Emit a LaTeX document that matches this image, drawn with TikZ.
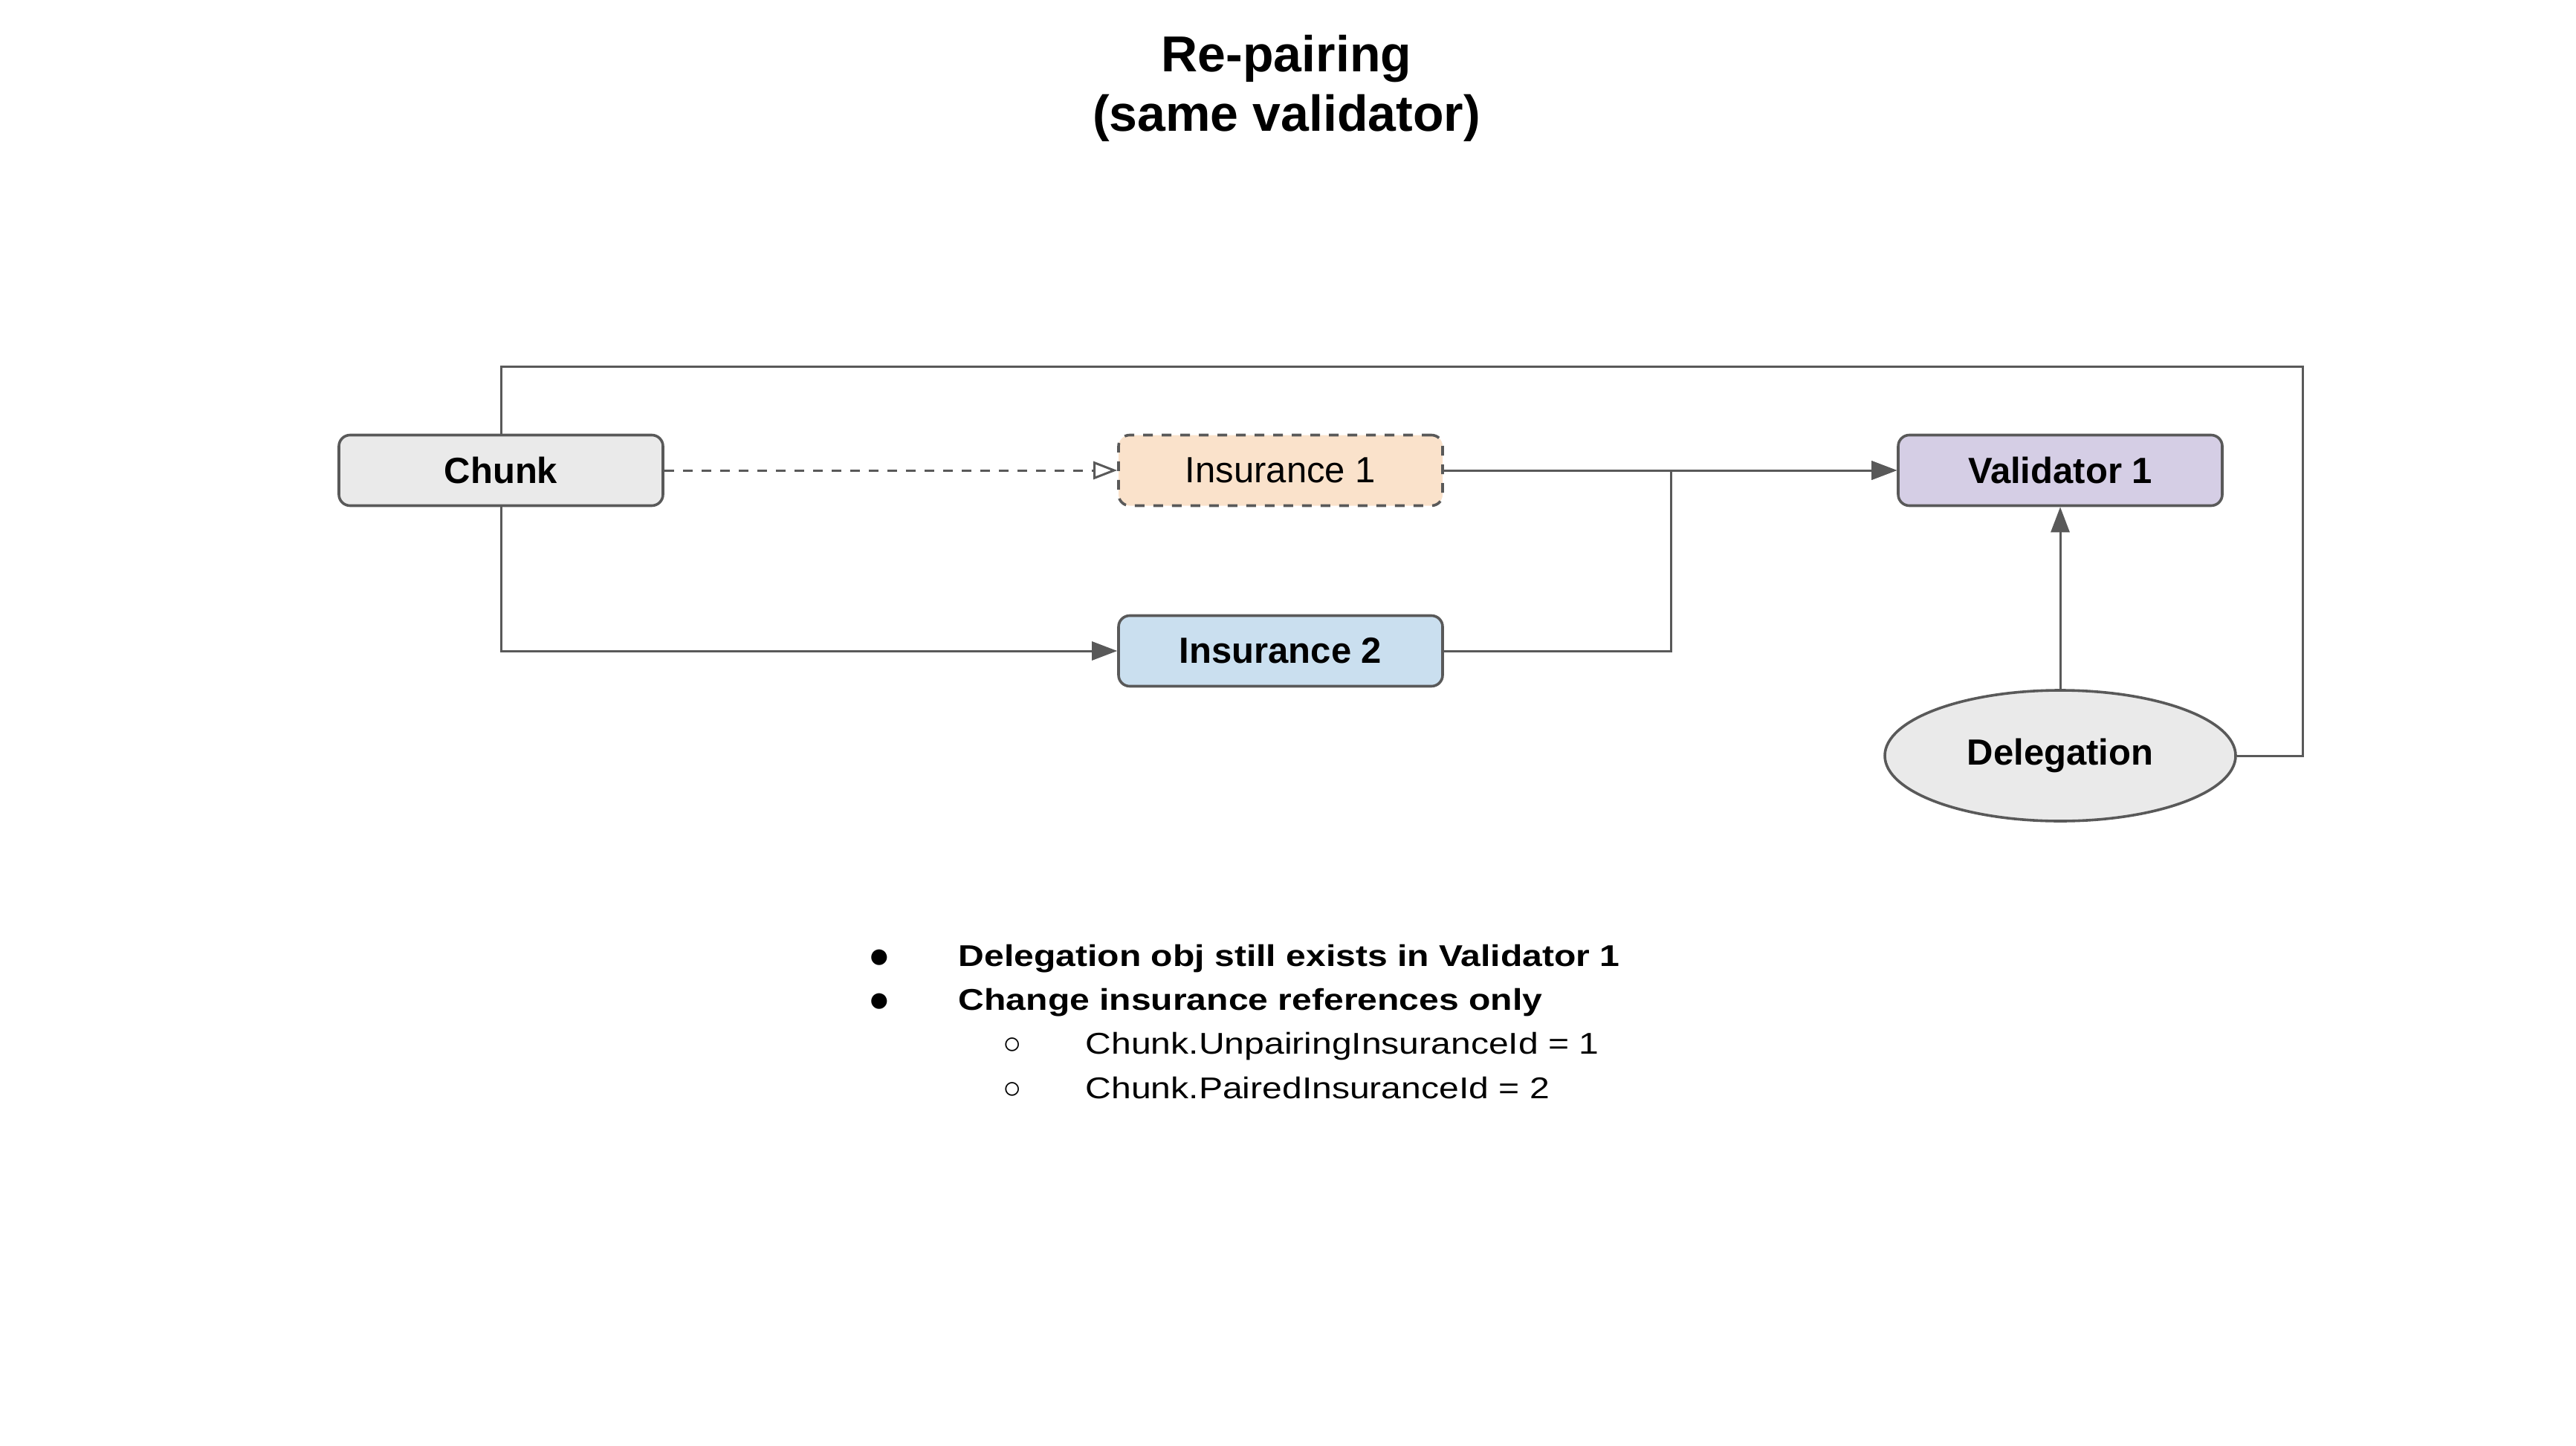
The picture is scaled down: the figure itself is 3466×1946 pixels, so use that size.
\documentclass[tikz,border=0pt]{standalone}
\usepackage{fontspec}
\setmainfont{Liberation Sans}
\newfontfamily\notefont[FakeStretch=1.19]{Liberation Sans}
\usetikzlibrary{arrows.meta,shapes.geometric}
\definecolor{linegray}{HTML}{595959}
\definecolor{chunkfill}{HTML}{EAEAEA}
\definecolor{insonefill}{HTML}{FAE2CB}
\definecolor{instwofill}{HTML}{CADFEF}
\definecolor{valfill}{HTML}{D5CEE5}
\begin{document}
\begin{tikzpicture}[x=0.25pt,y=-0.25pt,
  boxnode/.style={draw=linegray, line width=0.9pt, rounded corners=3.75pt,
    minimum width=109pt, minimum height=23.75pt, inner sep=0pt,
    font=\fontsize{12.25}{14}\selectfont\bfseries},
  ellnode/.style={ellipse, draw=linegray, line width=0.9pt, fill=chunkfill,
    minimum width=118pt, minimum height=44pt, inner sep=0pt,
    font=\fontsize{12.25}{14}\selectfont\bfseries},
  conn/.style={draw=linegray, line width=0.75pt},
  arr/.style={-{Triangle[length=8.5pt,width=6.25pt]}},
  openarr/.style={-{Triangle[open,length=8pt,width=6pt]}},
  dashline/.style={dash pattern=on 3.25pt off 3pt},
  titletext/.style={anchor=base, inner sep=0pt, font=\fontsize{17}{20}\selectfont\bfseries},
  bultext/.style={anchor=base west, inner sep=0pt, font=\notefont\fontsize{10.1}{12}\selectfont},
  bulmark/.style={anchor=base, inner sep=0pt, font=\fontsize{12.25}{14}\selectfont},
  subbulmark/.style={anchor=base, inner sep=0pt, font=\fontsize{10.5}{12}\selectfont}
]
\useasboundingbox (0,0) rectangle (3466,1946);

% title
\node[titletext] (t1) at (1731,97) {Re-pairing};
\node[titletext] (t2) at (1731,177) {(same validator)};

% nodes
\node[boxnode, fill=chunkfill] (chunk) at (674,633) {Chunk};
\node[boxnode, fill=insonefill, dashline, font=\fontsize{12.25}{14}\selectfont] (ins1) at (1723,633) {Insurance 1};
\node[boxnode, fill=instwofill] (ins2) at (1723,876) {Insurance 2};
\node[boxnode, fill=valfill] (val) at (2772,633) {Validator 1};
\node[ellnode] (deleg) at (2772,1017) {Delegation};

% connectors
\coordinate (join) at (2248,633);
\coordinate (topright) at (3098,494);
\draw[conn, dashline, openarr] (chunk.east) -- (ins1.west);
\draw[conn, arr] (ins1.east) -- (val.west);
\draw[conn, arr] (ins2.east) -| (join) -- (val.west);
\draw[conn, arr] (chunk.south) |- (ins2.west);
\draw[conn, arr] (deleg.north) -- (val.south);
\draw[conn] (chunk.north) |- (topright) |- (deleg.east);

% notes
\node[bulmark] (b1) at (1183,1302) {●};
\node[bultext, font=\notefont\fontsize{10.1}{12}\selectfont\bfseries] (l1) at (1289,1300) {Delegation obj still exists in Validator 1};
\node[bulmark] (b2) at (1183,1361) {●};
\node[bultext, font=\notefont\fontsize{10.1}{12}\selectfont\bfseries] (l2) at (1289,1359) {Change insurance references only};
\node[subbulmark] (b3) at (1362,1418) {○};
\node[bultext] (l3) at (1460,1418) {Chunk.UnpairingInsuranceId = 1};
\node[subbulmark] (b4) at (1362,1478) {○};
\node[bultext] (l4) at (1460,1478) {Chunk.PairedInsuranceId = 2};
\end{tikzpicture}
\end{document}
